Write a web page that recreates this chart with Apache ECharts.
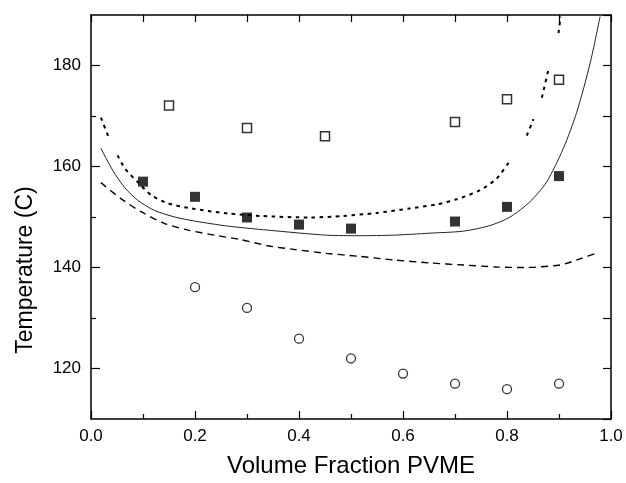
<!DOCTYPE html>
<html>
<head>
<meta charset="utf-8">
<script src="https://cdn.jsdelivr.net/npm/echarts@6/dist/echarts.min.js"></script>
<style>
html,body{margin:0;padding:0;background:#fff;}
#chart{width:626px;height:483px;}
</style>
</head>
<body>
<div id="chart"></div>
<script>
// ---- data ----
const openSquares = [[0.15,172.1],[0.3,167.6],[0.45,166.0],[0.7,168.8],[0.8,173.3],[0.9,177.2]];
const filledSquares = [[0.1,157.0],[0.2,154.0],[0.3,149.9],[0.4,148.5],[0.5,147.7],[0.7,149.1],[0.8,152.0],[0.9,158.1]];
const openCircles = [[0.2,136.1],[0.3,132.0],[0.4,125.9],[0.5,122.0],[0.6,119.0],[0.7,117.0],[0.8,115.9],[0.9,117.0]];
const solidCurve = [[0.019,163.6],[0.042,159.2],[0.065,155.8],[0.09,153.3],[0.122,151.3],[0.161,150.0],[0.199,149.2],[0.263,148.2],[0.34,147.4],[0.453,146.4],[0.517,146.3],[0.581,146.4],[0.652,146.8],[0.716,147.2],[0.767,148.3],[0.806,150.0],[0.844,153.0],[0.876,156.9],[0.908,163.5],[0.934,170.7],[0.96,180.5],[0.979,189.7]];
const dottedCurve = [[0.019,169.7],[0.034,165.8],null,[0.051,162.2],[0.066,159.5],[0.09,156.9],[0.116,154.3],[0.148,152.7],[0.187,151.8],[0.225,151.2],[0.263,150.7],[0.328,150.2],[0.421,149.9],[0.485,150.2],[0.549,150.8],[0.613,151.7],[0.665,152.5],[0.703,153.5],[0.748,155.3],[0.78,157.6],[0.806,161.2],null,[0.838,166.1],[0.851,169.4],null,[0.867,173.6],[0.879,178.9],null,[0.899,186.4],[0.903,189.7]];
const dashedCurve = [[0.019,156.8],[0.058,153.6],[0.097,151.0],[0.142,148.7],[0.187,147.4],[0.238,146.4],[0.289,145.5],[0.34,144.3],[0.389,143.6],[0.453,142.8],[0.517,142.2],[0.581,141.5],[0.652,140.9],[0.716,140.5],[0.78,140.1],[0.831,140.0],[0.902,140.5],[0.94,141.7],[0.976,143.0]];
const yLabelValues = [120,140,160,180];
const yMinorValues = [130,150,170];
const xTitle = 'Volume Fraction PVME';
const yTitle = 'Temperature (C)';

const FONT = '"Liberation Sans", Arial, sans-serif';
const chart = echarts.init(document.getElementById('chart'), null, {renderer:'canvas'});
const axisLine = {show:true, onZero:false, lineStyle:{color:'#000', width:1.5}};
const curve = (data, type, width, color) => ({
  type:'line', data: data.map(p => p === null ? [null,null] : p), showSymbol:false, connectNulls:false,
  smooth:0.25, silent:true,
  lineStyle:{color:color, width:width, type:type}, z:2
});
chart.setOption({
  animation:false,
  backgroundColor:'#fff',
  grid:{left:91, right:15, top:15, bottom:61, containLabel:false},
  xAxis:[
    {type:'value', position:'bottom', min:0, max:1, interval:0.2,
     axisLine:axisLine, splitLine:{show:false},
     axisTick:{show:true, inside:true, length:8, lineStyle:{color:'#000', width:1.2}},
     minorTick:{show:true, splitNumber:2, length:5, lineStyle:{color:'#000', width:1.2}},
     axisLabel:{color:'#000', fontSize:17, fontFamily:FONT, margin:9, formatter:v=>v.toFixed(1)},
     name:xTitle, nameLocation:'middle', nameGap:35,
     nameTextStyle:{color:'#000', fontSize:24, fontFamily:FONT}},
    {type:'value', position:'top', min:0, max:1, interval:0.1,
     axisLine:axisLine, splitLine:{show:false},
     axisTick:{show:true, inside:true, length:7, lineStyle:{color:'#000', width:1.2}},
     axisLabel:{show:false}}
  ],
  yAxis:[
    {type:'value', position:'left', min:110, max:190, interval:10,
     axisLine:axisLine, splitLine:{show:false},
     axisTick:{show:true, inside:true, length:9, customValues:yLabelValues, lineStyle:{color:'#000', width:1.2}},
     axisLabel:{color:'#000', fontSize:17, fontFamily:FONT, margin:10, customValues:yLabelValues}},
    {type:'value', position:'left', min:110, max:190, interval:10,
     axisLine:{show:false}, splitLine:{show:false},
     axisTick:{show:true, inside:true, length:5, customValues:yMinorValues, lineStyle:{color:'#000', width:1.2}},
     axisLabel:{show:false}},
    {type:'value', position:'right', min:110, max:190, interval:10,
     axisLine:axisLine, splitLine:{show:false},
     axisTick:{show:true, inside:true, length:8, lineStyle:{color:'#000', width:1.2}},
     axisLabel:{show:false}}
  ],
  graphic:[{type:'text', x:26, y:270, rotation:Math.PI/2,
    style:{text:yTitle, fill:'#000', font:'23px '+FONT, align:'center', verticalAlign:'middle'}}],
  series:[
    curve(solidCurve, 'solid', 1, '#222'),
    curve(dottedCurve, [3.5,4.5], 2, '#000'),
    curve(dashedCurve, [7,5], 1.4, '#000'),
    {type:'scatter', data:openSquares, symbol:'rect', symbolSize:9, z:5,
     itemStyle:{color:'#fff', borderColor:'#000', borderWidth:1.5}},
    {type:'scatter', data:filledSquares, symbol:'rect', symbolSize:10, z:5,
     itemStyle:{color:'#000'}},
    {type:'scatter', data:openCircles, symbol:'circle', symbolSize:9, z:5,
     itemStyle:{color:'#fff', borderColor:'#000', borderWidth:1.3}}
  ]
});
</script>
</body>
</html>
